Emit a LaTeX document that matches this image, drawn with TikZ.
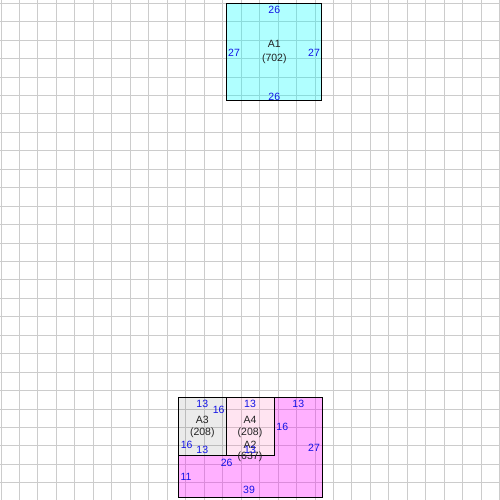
\documentclass[tikz,border=0pt]{standalone}
\usepackage{fontspec}
\setmainfont{Liberation Sans}
\definecolor{gridgrey}{RGB}{204,204,204}
\definecolor{lenblue}{RGB}{20,20,230}
\definecolor{roomtext}{RGB}{35,35,35}
\definecolor{pinkish}{RGB}{255,105,180}
\definecolor{cyanfill}{RGB}{0,255,255}
\definecolor{magfill}{RGB}{255,0,255}
\begin{document}
\begin{tikzpicture}[x=1pt, y=-1pt,
		gridline/.style={gridgrey, line width=0.9pt},
		room/.style={draw=black, line width=0.9pt},
		len/.style={text=lenblue, font=\fontsize{10.5}{12}\selectfont, inner sep=0pt},
		rname/.style={text=roomtext, font=\fontsize{10.5}{12}\selectfont, inner sep=0pt}
		]
	\useasboundingbox (0,0) rectangle (500,500);
	% grid
	\foreach \i in {0,...,27} {
		\draw[gridline] ({1+18.47*\i},0) -- ({1+18.47*\i},500);
		\draw[gridline] (0,{3.3+18.44*\i}) -- (500,{3.3+18.44*\i});
	}
	% fills
	\fill[cyanfill, fill opacity=0.31] (226.7,3.3) rectangle (321.7,100.7);
	\fill[magfill, fill opacity=0.31] (274.3,397.3) -- (322.7,397.3) -- (322.7,497.3)
		-- (178.3,497.3) -- (178.3,455.7) -- (274.3,455.7) -- cycle;
	\fill[black, fill opacity=0.08] (178.3,397.3) rectangle (226.7,455.7);
	\fill[pinkish, fill opacity=0.18] (226.7,397.3) rectangle (274.3,455.7);
	% outlines
	\draw[room] (226.7,3.3) rectangle (321.7,100.7);
	\draw[room] (274.3,397.3) -- (322.7,397.3) -- (322.7,497.3)
		-- (178.3,497.3) -- (178.3,455.7) -- (274.3,455.7) -- cycle;
	\draw[room] (178.3,397.3) rectangle (226.7,455.7);
	\draw[room, line width=1.2pt] (226.7,397.3) rectangle (274.3,455.7);
	% A1
	\node[rname] (a1name) at (274.3,44.3) {A1};
	\node[rname] (a1area) at (274.3,58.3) {(702)};
	\node[len] (a1top) at (274.3,10.3) {26};
	\node[len] (a1left) at (234,53.3) {27};
	\node[len] (a1right) at (314,53.3) {27};
	\node[len] (a1bottom) at (274.3,96.5) {26};
	% A3
	\node[rname] (a3name) at (202.3,420) {A3};
	\node[rname] (a3area) at (202.3,432.7) {(208)};
	\node[len] (a3top) at (202.3,404.3) {13};
	\node[len] (a3right) at (218.7,410) {16};
	\node[len] (a3left) at (186.7,445) {16};
	\node[len] (a3bottom) at (202.3,450) {13};
	% A2
	\node[rname] (a2name) at (250,444.5) {A2};
	\node[rname] (a2area) at (250,457) {(637)};
	\node[len] (a2top) at (298.3,404.3) {13};
	\node[len] (a2inner) at (282.3,427.3) {16};
	\node[len] (a2right) at (314,448.3) {27};
	\node[len] (a2step) at (226.7,462.7) {26};
	\node[len] (a2left) at (186,477.3) {11};
	\node[len] (a2bottom) at (249,490) {39};
	% A4
	\node[rname] (a4name) at (250,420) {A4};
	\node[rname] (a4area) at (250,432.7) {(208)};
	\node[len] (a4top) at (250,404.3) {13};
	\node[len] (a4bottom) at (250,450) {13};
\end{tikzpicture}
\end{document}
